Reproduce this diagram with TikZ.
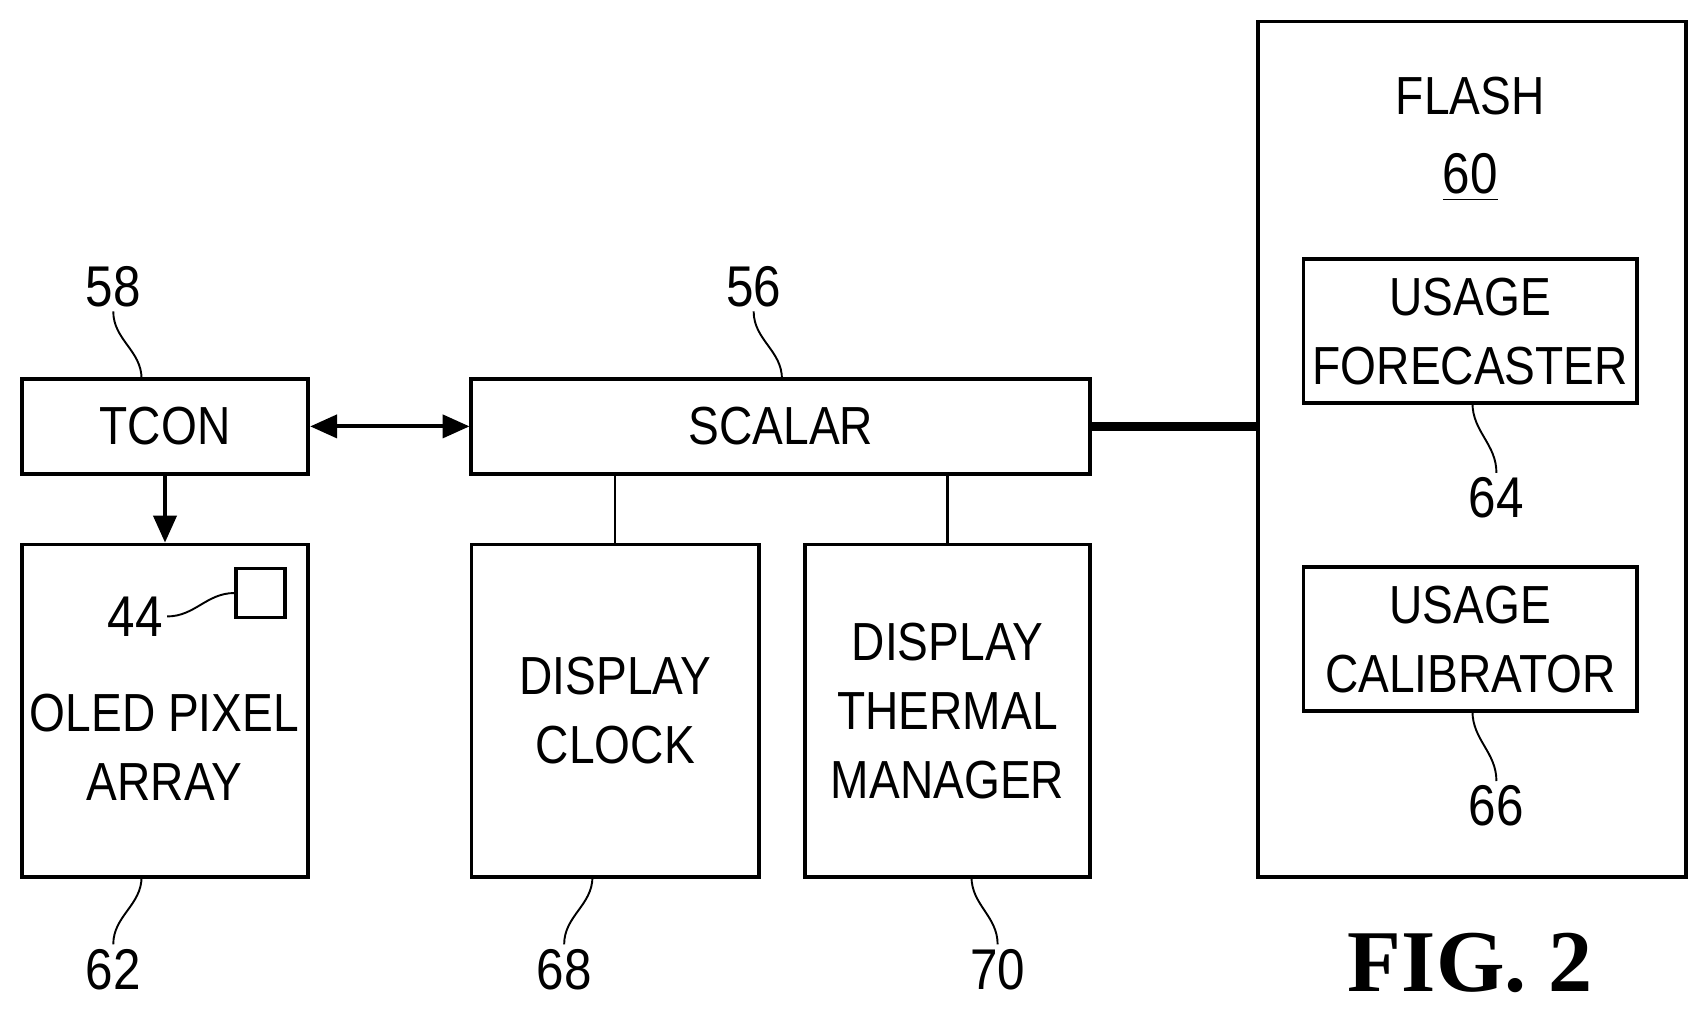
\documentclass[tikz,border=0pt]{standalone}
\usepackage{fontspec}
\setmainfont{Liberation Sans}[FakeStretch=0.86]
\newfontfamily\figfont{Liberation Serif}
\usetikzlibrary{positioning,arrows.meta}

\tikzset{
  blk/.style={draw, line width=1pt, align=center, inner sep=0pt, font=\fontsize{14}{18}\selectfont},
  lbl/.style={font=\fontsize{15}{18}\selectfont, inner sep=1pt, align=center},
  lead/.style={line width=0.5pt},
  link/.style={line width=1pt, -{Triangle[length=7pt,width=6pt]}},
}

\begin{document}
\begin{tikzpicture}[x=0.01cm, y=-0.01cm]
\useasboundingbox (0,0) rectangle (1560,930);

% blocks
\node[blk, minimum width=2.63cm, minimum height=0.87cm] (tcon) at (151.5,391.5) {TCON};
\node[blk, minimum width=2.63cm, minimum height=3.05cm] (oled) at (151.5,652.5) {};
\node[blk, minimum width=5.68cm, minimum height=0.87cm] (scalar) at (717,391.5) {SCALAR};
\node[blk, minimum width=2.64cm, minimum height=3.05cm] (clock) at (565,652.5) {DISPLAY\\CLOCK};
\node[blk, minimum width=2.62cm, minimum height=3.05cm] (thermal) at (870,652.5) {DISPLAY\\THERMAL\\MANAGER};
\node[blk, minimum width=3.93cm, minimum height=7.85cm] (flash) at (1351.5,412.5) {};
\node[blk, minimum width=3.06cm, minimum height=1.32cm] (forecast) at (1350,304) {USAGE\\FORECASTER};
\node[blk, minimum width=3.06cm, minimum height=1.32cm] (calib) at (1350,587) {USAGE\\CALIBRATOR};
\node[draw, line width=1pt, minimum size=0.45cm, inner sep=0pt] (pixel) at (239.5,544.5) {};

% texts inside
\node[blk, draw=none] (oledtxt) at (151,686) {OLED PIXEL\\ARRAY};
\node[blk, draw=none] (flashtxt) at (1350,88) {FLASH};
\node[lbl] (n60) at (1350,163) {\underline{60}};

% reference numerals
\node[lbl] (n58) at (104,263) {58};
\node[lbl] (n56) at (692,263) {56};
\node[lbl] (n62) at (104,890) {62};
\node[lbl] (n68) at (518,890) {68};
\node[lbl] (n70) at (916,890) {70};
\node[lbl] (n64) at (1374,457) {64};
\node[lbl] (n66) at (1374,740) {66};
\node[lbl] (n44) at (124,566) {44};
\node[font=\figfont\bfseries\fontsize{23}{28}\selectfont] (fig) at (1350,884) {FIG. 2};

% leaders
\draw[lead] (n58.south) to[out=-90,in=90] (130,348);
\draw[lead] (n56.south) to[out=-90,in=90] (718,348);
\draw[lead] (n62.north) to[out=90,in=-90] (130,805);
\draw[lead] (n68.north) to[out=90,in=-90] (544,805);
\draw[lead] (n70.north) to[out=90,in=-90] (892,805);
\draw[lead] (n64.north) to[out=90,in=-90] (1352,370);
\draw[lead] (n66.north) to[out=90,in=-90] (1352,653);
\draw[lead] (n44.east) to[out=0,in=180] (pixel.west);

% connections
\draw[link, {Triangle[length=7pt,width=6pt]}-{Triangle[length=7pt,width=6pt]}] (tcon) -- (scalar);
\draw[link] (tcon) -- (oled);
\draw[line width=0.6pt] (clock.north) -- (clock.north |- scalar.south);
\draw[line width=0.6pt] (thermal.north) -- (thermal.north |- scalar.south);
\draw[line width=2.5pt] (scalar.east) -- (scalar.east -| flash.west);
\end{tikzpicture}
\end{document}
